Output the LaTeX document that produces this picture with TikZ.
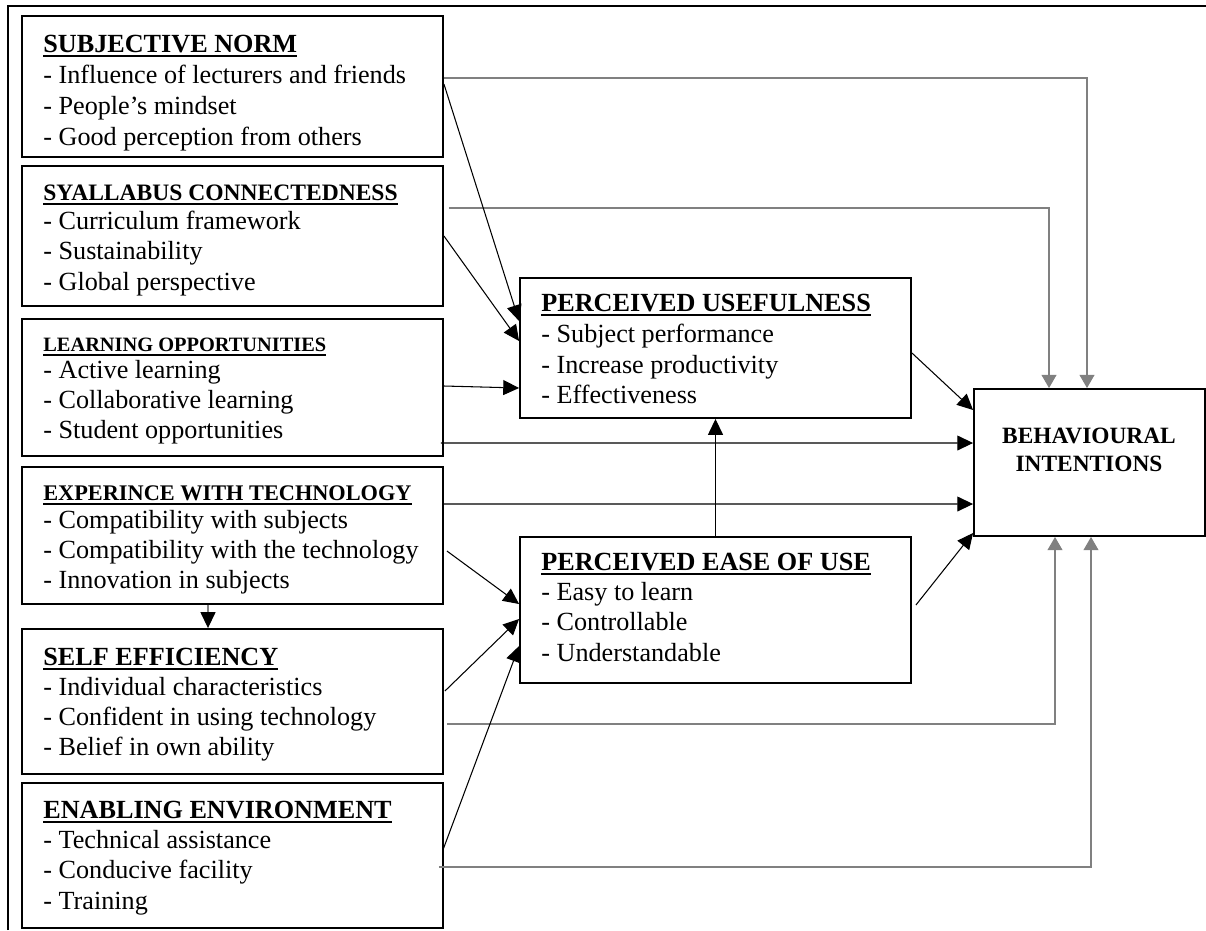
\documentclass[tikz,border=0pt]{standalone}
\usepackage{fontspec}
\setmainfont{Liberation Serif}
\usetikzlibrary{arrows.meta,calc}
\newcommand\ulin[1]{\setbox0\hbox{#1}\rlap{\rule[-2.7pt]{\wd0}{1.2pt}}\box0}
\tikzset{
 boxst/.style={draw, line width=1.1pt, inner sep=0, rectangle},
 wbox/.style={boxst, minimum width=8.42cm},
 cbox/.style={boxst, minimum width=7.82cm},
 txt/.style={anchor=base west, inner sep=0, font=\fontsize{14.9pt}{17.6pt}\selectfont},
 ttl/.style={anchor=base west, inner sep=0, font=\bfseries\fontsize{#1}{#1}\selectfont},
 bit/.style={anchor=base, inner sep=0, font=\bfseries\fontsize{13.3pt}{13.3pt}\selectfont},
 blk/.style={line width=0.6pt, -{Triangle[length=9pt,width=8.5pt]}},
 gry/.style={line width=0.6pt, draw=gray, -{Triangle[length=7.5pt,width=8.5pt,fill=gray]}},
 frame/.style={line width=1.1pt},
}
\begin{document}
\begin{tikzpicture}[x=0.02cm, y=-0.02cm]
\useasboundingbox (0,0) rectangle (1206,930);
\draw[frame] (8,930) -- (8,6) -- (1206,6);

% boxes
\node[wbox, minimum height=2.82cm] (sn) at (232.5,86.5) {};
\node[wbox, minimum height=2.80cm] (sc) at (232.5,236) {};
\node[wbox, minimum height=2.74cm] (lo) at (232.5,387.5) {};
\node[wbox, minimum height=2.74cm] (ewt) at (232.5,535.5) {};
\node[wbox, minimum height=2.90cm] (se) at (232.5,701.5) {};
\node[wbox, minimum height=2.90cm] (ee) at (232.5,855.5) {};
\node[cbox, minimum height=2.80cm] (pu) at (715.5,348) {};
\node[cbox, minimum height=2.92cm] (peou) at (715.5,610) {};
\node[boxst, minimum width=4.62cm, minimum height=2.94cm] (bi) at (1089.5,462.5) {};

% texts
\node[ttl=14.9pt] (snt) at (43,52) {\ulin{SUBJECTIVE NORM}};
\node[txt] (sn1) at (43,83) {- Influence of lecturers and friends};
\node[txt] (sn2) at (43,114) {- People’s mindset};
\node[txt] (sn3) at (43,145) {- Good perception from others};

\node[ttl=13.4pt] (sct) at (43,200) {\ulin{SYALLABUS CONNECTEDNESS}};
\node[txt] (sc1) at (43,229.5) {- Curriculum framework};
\node[txt] (sc2) at (43,259.5) {- Sustainability};
\node[txt] (sc3) at (43,290) {- Global perspective};

\node[ttl=11.6pt] (lot) at (43,351) {\ulin{LEARNING OPPORTUNITIES}};
\node[txt] (lo1) at (43,378) {- Active learning};
\node[txt] (lo2) at (43,408) {- Collaborative learning};
\node[txt] (lo3) at (43,438) {- Student opportunities};

\node[ttl=12.7pt] (ewtt) at (43,500) {\ulin{EXPERINCE WITH TECHNOLOGY}};
\node[txt] (ewt1) at (43,528) {- Compatibility with subjects};
\node[txt] (ewt2) at (43,558) {- Compatibility with the technology};
\node[txt] (ewt3) at (43,588) {- Innovation in subjects};

\node[ttl=14.9pt] (set) at (43,665) {\ulin{SELF EFFICIENCY}};
\node[txt] (se1) at (43,695) {- Individual characteristics};
\node[txt] (se2) at (43,725) {- Confident in using technology};
\node[txt] (se3) at (43,755) {- Belief in own ability};

\node[ttl=14.9pt] (eet) at (43,818) {\ulin{ENABLING ENVIRONMENT}};
\node[txt] (ee1) at (43,848) {- Technical assistance};
\node[txt] (ee2) at (43,878) {- Conducive facility};
\node[txt] (ee3) at (43,909) {- Training};

\node[ttl=14.9pt] (put) at (541,311) {\ulin{PERCEIVED USEFULNESS}};
\node[txt] (pu1) at (541,342) {- Subject performance};
\node[txt] (pu2) at (541,373) {- Increase productivity};
\node[txt] (pu3) at (541,403) {- Effectiveness};

\node[ttl=14.9pt] (peout) at (541,570) {\ulin{PERCEIVED EASE OF USE}};
\node[txt] (peou1) at (541,600) {- Easy to learn};
\node[txt] (peou2) at (541,630) {- Controllable};
\node[txt] (peou3) at (541,661) {- Understandable};

\node[bit] (bi1) at (1089,443) {BEHAVIOURAL};
\node[bit] (bi2) at (1089,471) {INTENTIONS};

% grey connectors
\draw[gry] ($(sn.east)+(0,-8.5)$) -| ($(bi.north)+(-2.5,0)$);
\draw[gry] ($(sc.east)+(5,-28)$) -| ($(bi.north)+(-40.5,0)$);
\draw[gry] ($(se.east)+(3,22.5)$) -| ($(bi.south)+(-34.5,0)$);
\draw[gry] ($(ee.east)+(-5,11.5)$) -| ($(bi.south)+(1.5,0)$);

% black connectors
\draw[blk] ($(sn.east)+(0,-2.5)$) -- ($(pu.west)+(0,-27)$);
\draw[blk] ($(sc.east)+(0,0)$) -- ($(pu.west)+(0,-7)$);
\draw[blk] ($(lo.east)+(0,-1.5)$) -- ($(pu.west)+(0,40)$);
\draw[blk] ($(lo.east)+(-3,55.5)$) -- ($(bi.west)+(0,-19.5)$);
\draw[blk] ($(ewt.east)+(0,-31.5)$) -- ($(bi.west)+(0,41.5)$);
\draw[blk] ($(ewt.east)+(3,15.5)$) -- ($(peou.west)+(0,-6)$);
\draw[blk] ($(se.east)+(1,-10.5)$) -- ($(peou.west)+(0,9)$);
\draw[blk] ($(ee.east)+(-1,-5.5)$) -- ($(peou.west)+(0,36)$);
\draw[blk] (peou.north) -- (pu.south);
\draw[blk] ($(pu.east)+(0,5)$) -- ($(bi.west)+(0,-52.5)$);
\draw[blk] ($(peou.east)+(4,-5)$) -- ($(bi.west)+(0,70.5)$);
\draw[line width=0.6pt, draw=gray, -{Triangle[length=9pt,width=8.5pt,fill=black,black]}] ($(ewt.south)+(-24.5,0)$) -- ($(se.north)+(-24.5,0)$);
\end{tikzpicture}
\end{document}
